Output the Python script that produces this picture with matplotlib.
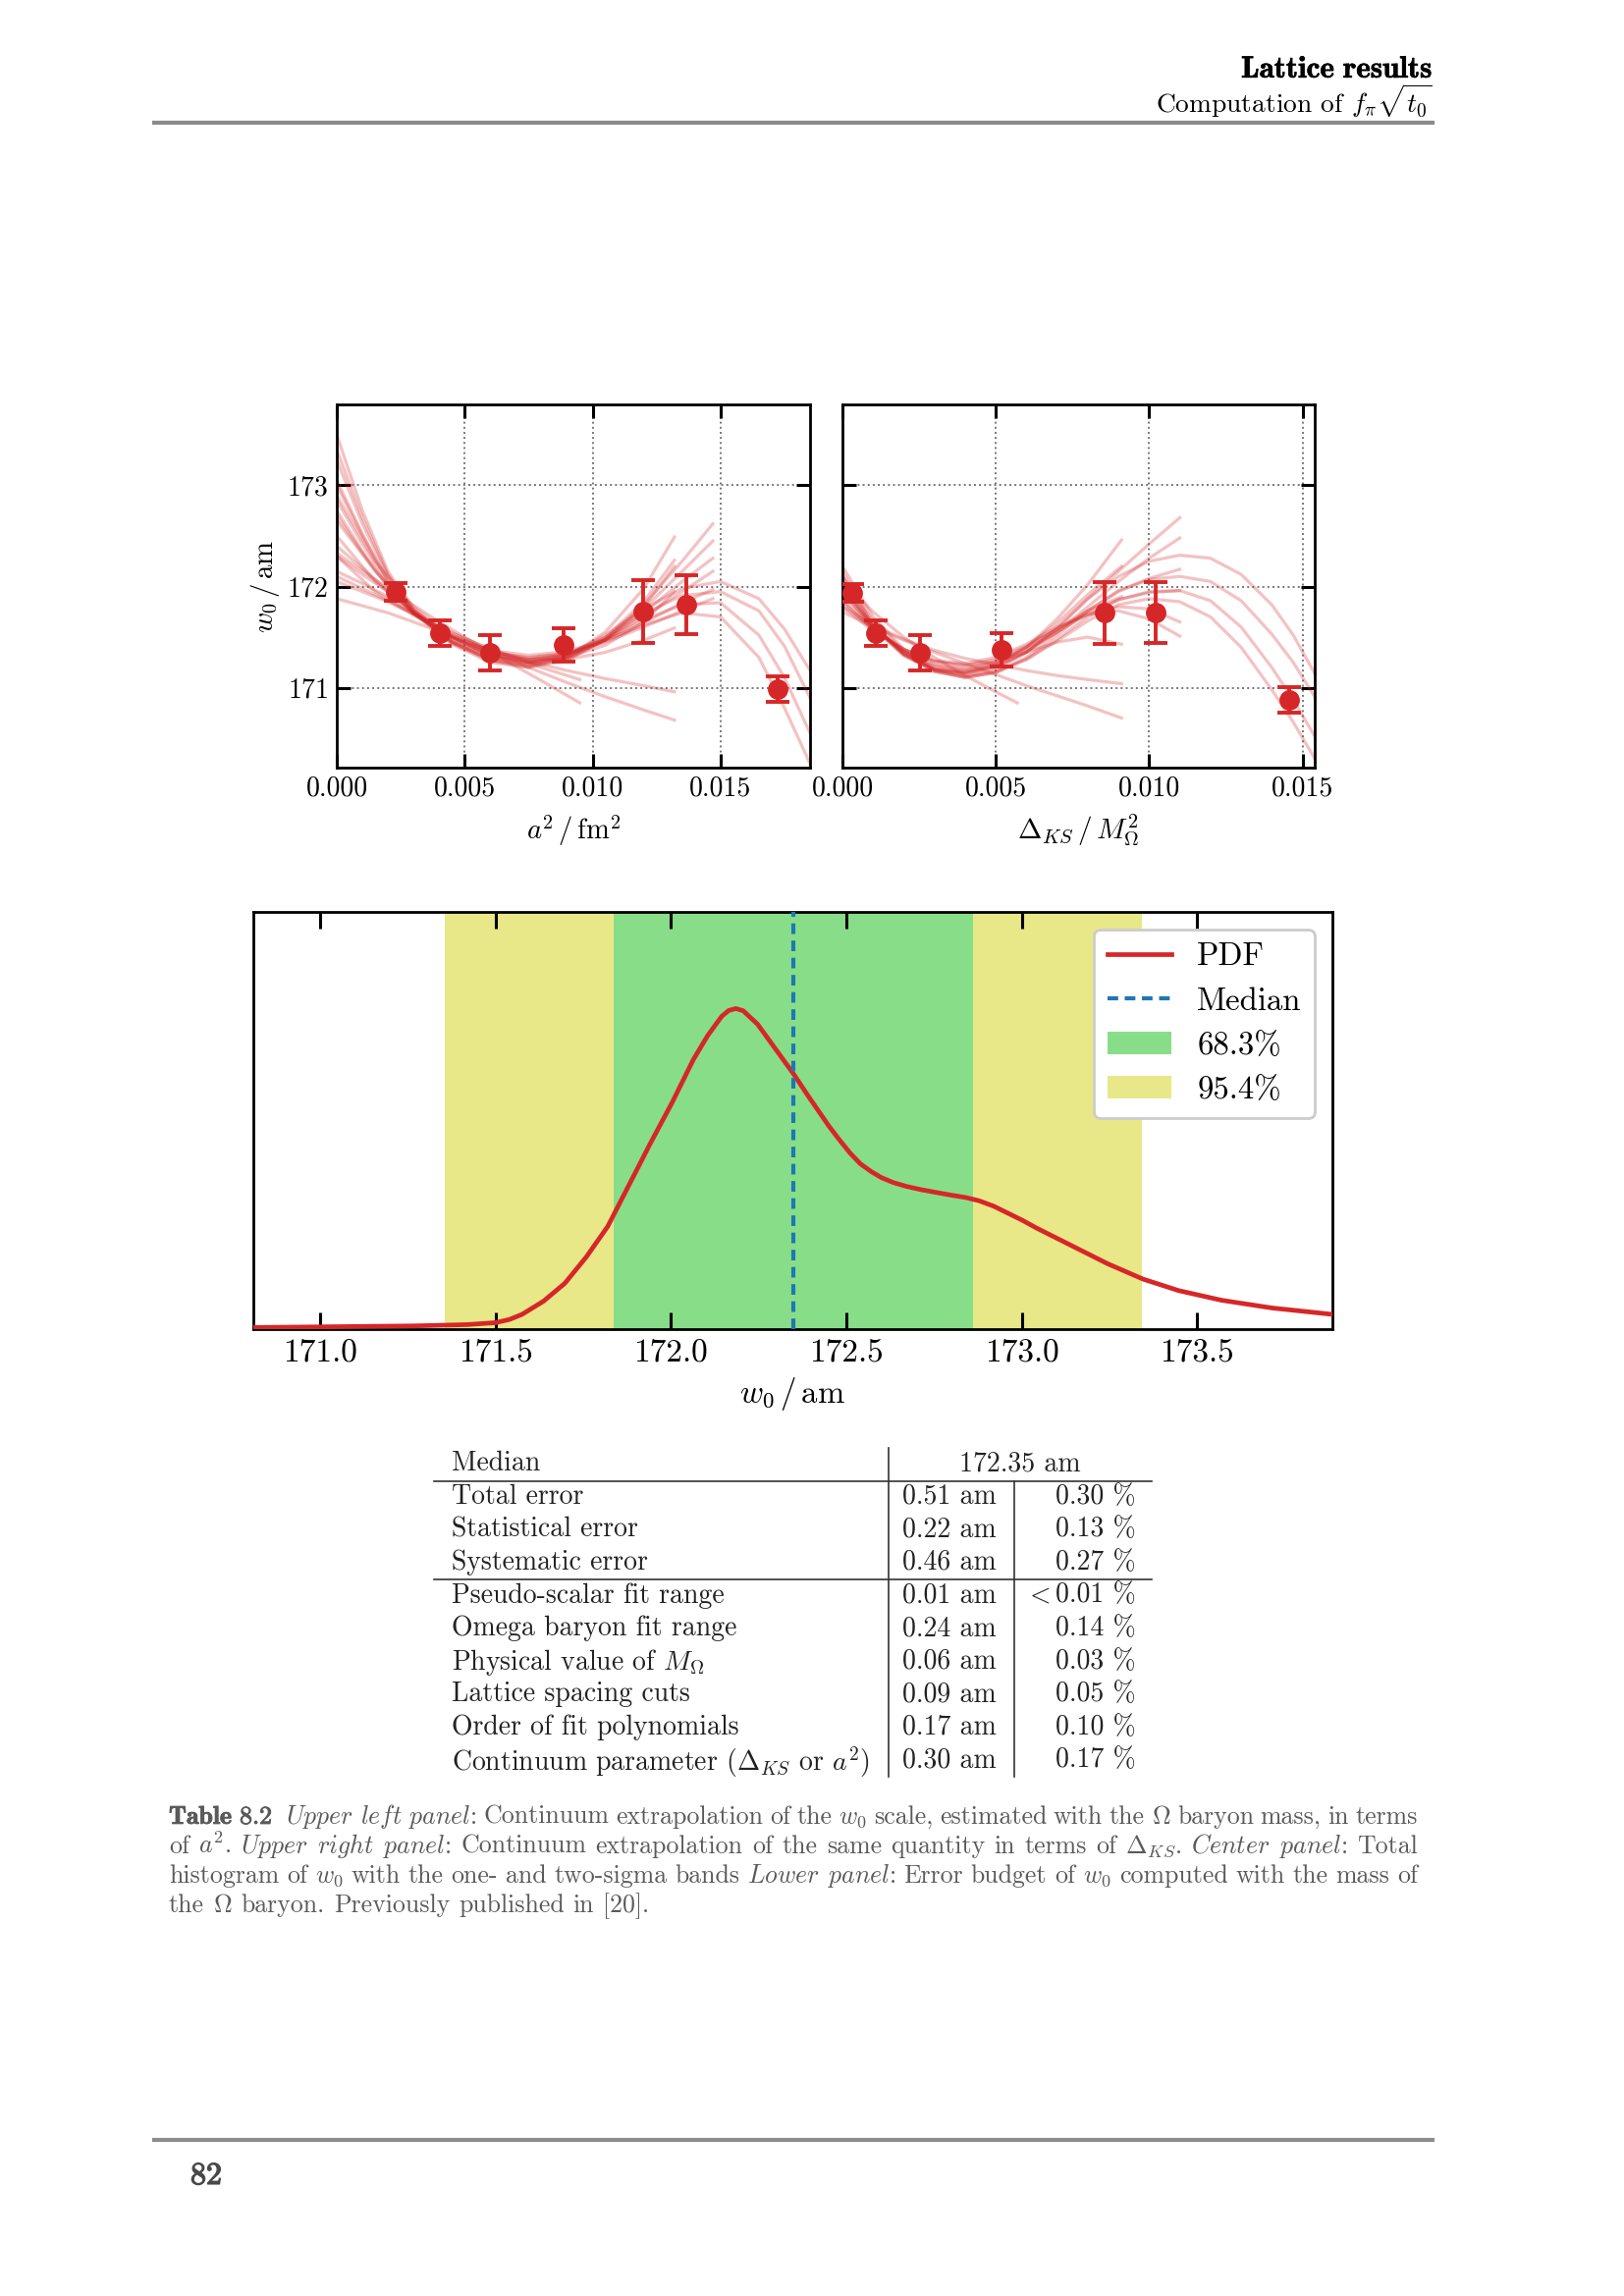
import numpy as np
import matplotlib
matplotlib.use("Agg")
import matplotlib.pyplot as plt
import matplotlib.patheffects as pe
from matplotlib.lines import Line2D
from matplotlib.patches import Patch
from matplotlib.ticker import FormatStrFormatter

# ---------------- data ----------------
# upper left: w0 vs a^2
left_x = [0.00232, 0.00403, 0.00600, 0.00887, 0.01199, 0.01367, 0.01722]
left_y = [171.95, 171.54, 171.345, 171.42, 171.75, 171.82, 170.99]
left_err = [0.087, 0.13, 0.174, 0.166, 0.31, 0.295, 0.127]

# fit curves (values read at node positions)
left_fit_x_a = [0.0, 0.001, 0.002, 0.003, 0.0045, 0.006, 0.0075, 0.009, 0.0105, 0.012, 0.0135, 0.0147]
left_fit_a = [
    [173.50, 172.75, 172.15, 171.78, 171.45, 171.27, 171.20, 171.27, 171.48, 171.82, 172.25, 172.62],
    [173.25, 172.62, 172.10, 171.76, 171.45, 171.28, 171.22, 171.28, 171.47, 171.78, 172.15, 172.45],
    [173.05, 172.52, 172.06, 171.75, 171.46, 171.30, 171.24, 171.30, 171.47, 171.74, 172.05, 172.28],
    [172.85, 172.42, 172.03, 171.74, 171.47, 171.31, 171.26, 171.32, 171.47, 171.70, 171.95, 172.15],
    [172.65, 172.32, 172.00, 171.73, 171.48, 171.33, 171.28, 171.33, 171.46, 171.64, 171.84, 171.97],
    [172.40, 172.18, 171.96, 171.74, 171.50, 171.35, 171.30, 171.34, 171.45, 171.60, 171.76, 171.88],
]
left_fit_x_b = [0.0, 0.001, 0.002, 0.003, 0.0045, 0.006, 0.0075, 0.009, 0.0105, 0.012, 0.0132]
left_fit_b = [
    [173.35, 172.68, 172.12, 171.76, 171.43, 171.25, 171.20, 171.30, 171.55, 171.98, 172.49],
    [173.00, 172.50, 172.05, 171.74, 171.44, 171.27, 171.22, 171.30, 171.50, 171.85, 172.26],
    [172.75, 172.35, 172.00, 171.73, 171.45, 171.29, 171.24, 171.31, 171.48, 171.80, 172.20],
    [172.30, 172.12, 171.95, 171.76, 171.50, 171.32, 171.25, 171.30, 171.42, 171.65, 171.95],
    [172.15, 172.03, 171.90, 171.74, 171.52, 171.36, 171.28, 171.28, 171.35, 171.47, 171.59],
    [172.10, 171.98, 171.86, 171.73, 171.54, 171.38, 171.26, 171.17, 171.09, 171.02, 170.96],
    [171.88, 171.81, 171.74, 171.65, 171.51, 171.36, 171.20, 171.05, 170.91, 170.78, 170.68],
]
left_fit_x_d = [0.0, 0.002, 0.004, 0.006, 0.008, 0.0095]
left_fit_d = [
    [172.33, 171.98, 171.65, 171.35, 171.07, 170.85],
    [172.05, 171.85, 171.60, 171.38, 171.20, 171.08],
]
left_fit_x_c = [0.0, 0.0015, 0.003, 0.0045, 0.006, 0.0075, 0.009, 0.0105, 0.012, 0.0135, 0.015, 0.0165, 0.0175, 0.0185]
left_fit_c = [
    [172.90, 172.25, 171.80, 171.50, 171.32, 171.25, 171.32, 171.52, 171.78, 171.98, 172.05, 171.88, 171.58, 171.17],
    [172.70, 172.15, 171.77, 171.50, 171.33, 171.27, 171.33, 171.50, 171.73, 171.91, 171.95, 171.76, 171.41, 170.90],
    [172.50, 172.05, 171.74, 171.50, 171.35, 171.29, 171.34, 171.48, 171.67, 171.82, 171.84, 171.52, 171.10, 170.55],
    [172.30, 171.95, 171.72, 171.51, 171.37, 171.32, 171.36, 171.47, 171.62, 171.74, 171.70, 171.30, 170.80, 170.25],
]

# upper right: w0 vs Delta_KS / M_Omega^2
right_x = [0.00032, 0.00110, 0.00253, 0.00518, 0.00854, 0.01020, 0.01456]
right_y = [171.94, 171.54, 171.345, 171.37, 171.74, 171.74, 170.88]
right_err = [0.087, 0.13, 0.177, 0.165, 0.305, 0.30, 0.126]

right_fit_x_c = [0.0, 0.001, 0.002, 0.003, 0.004, 0.005, 0.006, 0.007, 0.008, 0.009, 0.010, 0.011, 0.012, 0.013, 0.014, 0.0147, 0.0154]
right_fit_c = [
    [172.20, 171.70, 171.38, 171.18, 171.12, 171.18, 171.35, 171.60, 171.88, 172.10, 172.25, 172.31, 172.28, 172.12, 171.82, 171.52, 171.14],
    [172.10, 171.66, 171.36, 171.17, 171.10, 171.15, 171.30, 171.52, 171.76, 171.96, 172.07, 172.10, 172.05, 171.86, 171.53, 171.25, 170.91],
    [172.00, 171.62, 171.34, 171.16, 171.10, 171.15, 171.28, 171.48, 171.70, 171.87, 171.95, 171.96, 171.86, 171.60, 171.20, 170.88, 170.52],
    [171.95, 171.58, 171.32, 171.16, 171.11, 171.16, 171.28, 171.46, 171.66, 171.82, 171.88, 171.85, 171.70, 171.40, 170.98, 170.66, 170.30],
]
right_fit_x_e = [0.0, 0.001, 0.002, 0.003, 0.004, 0.005, 0.006, 0.007, 0.008, 0.009, 0.010, 0.011]
right_fit_e = [
    [172.15, 171.62, 171.32, 171.17, 171.14, 171.20, 171.35, 171.58, 171.88, 172.15, 172.42, 172.68],
    [172.05, 171.60, 171.33, 171.18, 171.15, 171.21, 171.35, 171.55, 171.80, 172.05, 172.28, 172.48],
    [171.98, 171.60, 171.35, 171.20, 171.16, 171.22, 171.36, 171.55, 171.76, 171.95, 172.08, 172.17],
    [171.90, 171.58, 171.36, 171.23, 171.19, 171.25, 171.38, 171.55, 171.73, 171.87, 171.94, 171.96],
    [171.85, 171.57, 171.38, 171.26, 171.22, 171.28, 171.41, 171.58, 171.73, 171.80, 171.78, 171.65],
    [171.80, 171.56, 171.38, 171.27, 171.24, 171.30, 171.43, 171.60, 171.72, 171.76, 171.68, 171.51],
]
right_fit_x_f = [0.0, 0.001, 0.002, 0.003, 0.004, 0.005, 0.006, 0.007, 0.008, 0.0091]
right_fit_f = [
    [172.10, 171.62, 171.33, 171.18, 171.14, 171.22, 171.40, 171.68, 172.02, 172.46],
    [172.02, 171.60, 171.34, 171.19, 171.16, 171.23, 171.40, 171.64, 171.92, 172.20],
    [171.95, 171.60, 171.36, 171.22, 171.18, 171.25, 171.40, 171.58, 171.76, 171.90],
    [171.85, 171.58, 171.38, 171.26, 171.22, 171.26, 171.35, 171.45, 171.50, 171.43],
    [171.80, 171.62, 171.48, 171.37, 171.29, 171.23, 171.17, 171.12, 171.08, 171.04],
    [171.75, 171.60, 171.47, 171.35, 171.24, 171.13, 171.02, 170.92, 170.82, 170.70],
]
right_fit_x_g = [0.0, 0.001, 0.002, 0.003, 0.004, 0.005, 0.0057]
right_fit_g = [
    [172.05, 171.75, 171.50, 171.30, 171.12, 170.96, 170.85],
]

# center: PDF of w0 (normalised to peak)
pdf_x = [170.81, 171.0, 171.27, 171.42, 171.50, 171.54, 171.576, 171.637, 171.698, 171.759,
         171.82, 171.881, 171.942, 172.003, 172.064, 172.105, 172.145, 172.165, 172.185, 172.206,
         172.247, 172.308, 172.349, 172.389, 172.45, 172.48, 172.511, 172.54, 172.572, 172.60,
         172.633, 172.67, 172.715, 172.796, 172.84, 172.878, 172.92, 172.959, 173.0, 173.04,
         173.142, 173.244, 173.345, 173.447, 173.569, 173.712, 173.884]
pdf_y = [0.005, 0.007, 0.010, 0.014, 0.020, 0.030, 0.046, 0.087, 0.143, 0.225,
         0.320, 0.450, 0.580, 0.705, 0.840, 0.915, 0.975, 0.993, 0.999, 0.992,
         0.950, 0.858, 0.796, 0.730, 0.633, 0.590, 0.548, 0.515, 0.490, 0.472,
         0.457, 0.445, 0.434, 0.418, 0.410, 0.400, 0.383, 0.362, 0.340, 0.316,
         0.260, 0.204, 0.156, 0.120, 0.090, 0.066, 0.046]
median = 172.35
band_68 = [171.836, 172.861]
band_95 = [171.356, 173.341]

# lower: error budget
budget_labels = ["Total error", "Statistical error", "Systematic error",
                 "Pseudo-scalar fit range", "Omega baryon fit range",
                 r"Physical value of $M_\Omega$", "Lattice spacing cuts",
                 "Order of fit polynomials", r"Continuum parameter ($\Delta_{KS}$ or $a^2$)"]
budget_abs = [0.51, 0.22, 0.46, 0.01, 0.24, 0.06, 0.09, 0.17, 0.30]
budget_rel = [0.30, 0.13, 0.27, 0.01, 0.14, 0.03, 0.05, 0.10, 0.17]
budget_below = [False, False, False, True, False, False, False, False, False]

caption_lines = [
    [r"$\mathbf{Table}$", r"$\mathbf{8.2}$", "", r"$\mathit{Upper}$", r"$\mathit{left}$", r"$\mathit{panel}$:",
     "Continuum", "extrapolation", "of", "the", r"$w_0$", "scale,", "estimated", "with", "the",
     r"$\Omega$", "baryon", "mass,", "in", "terms"],
    ["of", r"$a^2$.", r"$\mathit{Upper}$", r"$\mathit{right}$", r"$\mathit{panel}$:", "Continuum",
     "extrapolation", "of", "the", "same", "quantity", "in", "terms", "of", r"$\Delta_{KS}$.",
     r"$\mathit{Center}$", r"$\mathit{panel}$:", "Total"],
    ["histogram", "of", r"$w_0$", "with", "the", "one-", "and", "two-sigma", "bands",
     r"$\mathit{Lower}$", r"$\mathit{panel}$:", "Error", "budget", "of", r"$w_0$", "computed",
     "with", "the", "mass", "of"],
    ["the", r"$\Omega$", "baryon.", "Previously", "published", "in", "[20]."],
]

# ---------------- style ----------------
plt.rcParams['font.family'] = ['cmr10', 'DejaVu Serif']
plt.rcParams['mathtext.fontset'] = 'cm'
plt.rcParams['axes.formatter.use_mathtext'] = True
plt.rcParams['axes.unicode_minus'] = False

RED = '#d62728'
BLUE = '#1f77b4'
W, H = 1654, 2339

fig = plt.figure(figsize=(W / 200, H / 200), dpi=200)
fig.patch.set_facecolor('white')


def fx(px):
    return px / W


def fy(py):
    return 1 - py / H


def add_ax(x0, y0, x1, y1):
    return fig.add_axes([fx(x0), fy(y1), (x1 - x0) / W, (y1 - y0) / H])


def bold(color, w=0.3):
    return [pe.withStroke(linewidth=w, foreground=color)]


def style_top(ax):
    ax.tick_params(direction='in', top=True, right=True, length=5, width=1.1, labelsize=10, pad=3)
    for s in ax.spines.values():
        s.set_linewidth(1.0)
    ax.grid(True, linestyle=':', color='#777777', linewidth=0.7)
    ax.set_axisbelow(True)
    ax.set_ylim(170.21, 173.8)
    ax.set_yticks([171, 172, 173])
    ax.set_xticks([0.0, 0.005, 0.010, 0.015])
    ax.xaxis.set_major_formatter(FormatStrFormatter('%.3f'))


def draw_fits(ax, groups):
    for xs, curves in groups:
        for ys in curves:
            ax.plot(xs, ys, color=RED, alpha=0.28, lw=1.15, zorder=2, solid_joinstyle='round')


# ---------------- upper panels ----------------
ax1 = add_ax(343, 412, 825, 782)
style_top(ax1)
draw_fits(ax1, [(left_fit_x_a, left_fit_a), (left_fit_x_b, left_fit_b),
                (left_fit_x_d, left_fit_d), (left_fit_x_c, left_fit_c)])
ax1.errorbar(left_x, left_y, yerr=left_err, fmt='o', color=RED, ms=6.5,
             capsize=4.3, elinewidth=1.4, capthick=1.4, zorder=4)
ax1.set_xlim(0, 0.0185)
ax1.set_xlabel(r"$a^2\,/\,\mathrm{fm}^2$", fontsize=10.3, labelpad=4)
ax1.set_ylabel(r"$w_0\,/\,\mathrm{am}$", fontsize=10.4, labelpad=2)

ax2 = add_ax(858, 412, 1339, 782)
style_top(ax2)
draw_fits(ax2, [(right_fit_x_c, right_fit_c), (right_fit_x_e, right_fit_e),
                (right_fit_x_f, right_fit_f), (right_fit_x_g, right_fit_g)])
ax2.errorbar(right_x, right_y, yerr=right_err, fmt='o', color=RED, ms=6.5,
             capsize=4.3, elinewidth=1.4, capthick=1.4, zorder=4)
ax2.set_xlim(0, 0.0154)
ax2.tick_params(labelleft=False)
ax2.set_xlabel(r"$\Delta_{KS}\,/\,M_\Omega^2$", fontsize=10.5, labelpad=4)

# ---------------- center panel ----------------
ax3 = add_ax(258, 929, 1357, 1354)
ax3.axvspan(band_95[0], band_95[1], color='#e8e888', lw=0, zorder=0)
ax3.axvspan(band_68[0], band_68[1], color='#88de88', lw=0, zorder=1)
ax3.plot(pdf_x, pdf_y, color=RED, lw=1.7, zorder=3, solid_joinstyle='round')
ax3.axvline(median, color=BLUE, lw=1.5, ls=(0, (2.6, 1.6)), zorder=3)
ax3.set_xlim(170.81, 173.885)
ax3.set_ylim(0, 1.3)
ax3.set_yticks([])
ax3.set_xticks([171.0, 171.5, 172.0, 172.5, 173.0, 173.5])
ax3.xaxis.set_major_formatter(FormatStrFormatter('%.1f'))
ax3.tick_params(axis='x', direction='in', top=True, length=6, width=1.1, labelsize=12, pad=3.5)
for s in ax3.spines.values():
    s.set_linewidth(1.0)
ax3.set_xlabel(r"$w_0\,/\,\mathrm{am}$", fontsize=11.8, labelpad=3)
handles = [Line2D([], [], color=RED, lw=1.7),
           Line2D([], [], color=BLUE, lw=1.5, ls=(0, (2.6, 1.6))),
           Patch(facecolor='#88de88'), Patch(facecolor='#e8e888')]
ax3.legend(handles, ['PDF', 'Median', '68.3%', '95.4%'], loc='upper right',
           fontsize=11.8, framealpha=1.0, edgecolor='#cccccc', borderaxespad=0.55)

# ---------------- page furniture ----------------
GREY_RULE = '#8c8c8c'
fig.add_artist(Line2D([fx(157), fx(1459)], [fy(125), fy(125)], color=GREY_RULE, lw=1.5))
fig.add_artist(Line2D([fx(157), fx(1459)], [fy(2180), fy(2180)], color=GREY_RULE, lw=1.5))
fig.text(fx(1459), fy(79), r"$\mathbf{Lattice\ results}$", ha='right', va='baseline',
         fontsize=11.2, path_effects=bold('black', 0.25))
fig.text(fx(1459), fy(115), r"Computation of $f_\pi\sqrt{t_0}$", ha='right', va='baseline', fontsize=9.9)
fig.text(fx(194), fy(2225), r"$\mathbf{82}$", ha='left', va='baseline', fontsize=11.5,
         color='#484848', path_effects=bold('#484848', 0.5))

# ---------------- error budget table ----------------
TXT = '#222222'
row0, step = 1488, 33.6
tsize = 10.0
fig.text(fx(460), fy(row0), "Median", ha='left', va='center_baseline', fontsize=tsize, color=TXT)
fig.text(fx(1039), fy(row0), "%.2f am" % median, ha='center', va='center_baseline', fontsize=tsize, color=TXT)
for i, lab in enumerate(budget_labels):
    y = row0 + step * (i + 1)
    fig.text(fx(460), fy(y), lab, ha='left', va='center_baseline', fontsize=tsize, color=TXT)
    fig.text(fx(967), fy(y), "%.2f am" % budget_abs[i], ha='center', va='center_baseline',
             fontsize=tsize, color=TXT)
    fig.text(fx(1157), fy(y), "%.2f %%" % budget_rel[i], ha='right', va='center_baseline',
             fontsize=tsize, color=TXT)
    if budget_below[i]:
        # "<" sign set just left of the number
        fig.text(fx(1057), fy(y), r"$<$", ha='center', va='center_baseline', fontsize=tsize, color=TXT)

for yy in [1509, 1609]:
    fig.add_artist(Line2D([fx(442), fx(1173)], [fy(yy), fy(yy)], color='#333333', lw=0.6))
fig.add_artist(Line2D([fx(905), fx(905)], [fy(1475), fy(1810)], color='#333333', lw=0.6))
fig.add_artist(Line2D([fx(1033), fx(1033)], [fy(1509), fy(1810)], color='#333333', lw=0.6))

# ---------------- caption (justified) ----------------
cap_color = '#5a5a5a'
cap_size = 9.3
cap_left, cap_right = 172, 1444
cap_base = [1858, 1888, 1918, 1948]
renderer = fig.canvas.get_renderer()
for li, words in enumerate(caption_lines):
    texts = []
    for w in words:
        t = fig.text(0, fy(cap_base[li]), w, fontsize=cap_size, color=cap_color, ha='left', va='baseline')
        if 'mathbf' in w:
            t.set_path_effects(bold(cap_color, 0.35))
        texts.append(t)
    widths = [t.get_window_extent(renderer).width if w else 0.0 for t, w in zip(texts, words)]
    if li < len(caption_lines) - 1:
        gap = (cap_right - cap_left - sum(widths)) / (len(words) - 1)
    else:
        gap = 9.0
    xpos = cap_left
    for t, wd in zip(texts, widths):
        t.set_x(fx(xpos))
        xpos += wd + gap

fig.savefig("out.png", dpi=200, facecolor='white')
